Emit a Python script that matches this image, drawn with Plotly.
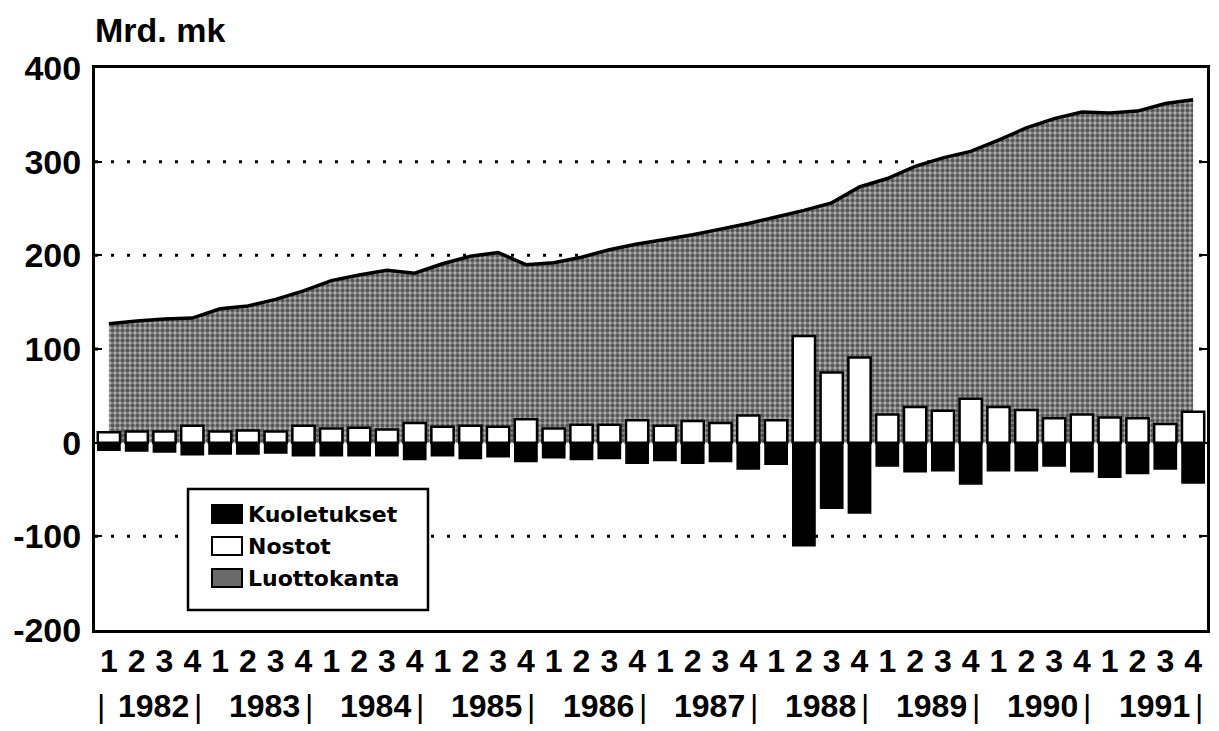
import plotly.graph_objects as go

# ---------------- data ----------------
years = [1982, 1983, 1984, 1985, 1986, 1987, 1988, 1989, 1990, 1991]
quarters = ["1", "2", "3", "4"]

# Luottokanta (credit stock), Mrd. mk, quarterly 1982Q1..1991Q4
luottokanta = [127, 130, 132, 133, 143, 146, 153, 162,
               173, 179, 184, 181, 191, 199, 203, 190,
               192, 198, 206, 212, 217, 222, 228, 234,
               241, 248, 256, 273, 282, 295, 304, 311,
               323, 336, 346, 353, 352, 354, 362, 366]

# Nostot (drawings)
nostot = [11, 12, 12, 18, 12, 13, 12, 18,
          15, 16, 14, 21, 17, 18, 17, 25,
          15, 19, 19, 24, 18, 23, 21, 29,
          24, 114, 75, 91, 30, 38, 34, 47,
          38, 35, 26, 30, 27, 26, 20, 33]

# Kuoletukset (amortisations), shown negative
kuoletukset = [-8, -9, -10, -13, -12, -12, -11, -14,
               -14, -14, -14, -18, -14, -17, -15, -20,
               -16, -18, -17, -22, -19, -22, -20, -28,
               -23, -110, -70, -75, -25, -31, -30, -44,
               -30, -30, -25, -31, -37, -33, -28, -43]

y_tickvals = [-200, -100, 0, 100, 200, 300, 400]
y_ticktext = ["-200", "-100", "0", "100", "200", "300", "400"]
grid_vals = [-100, 100, 200, 300]

series_names = ["Kuoletukset", "Nostot", "Luottokanta"]

# ---------------- layout geometry (screen pixels) ----------------
OFF = 8                      # page body margin
W, H = 1219 - OFF, 731 - OFF
L, R, T, B = 95, 1207, 68, 630   # plot area on screen


def px(x):
    return (x - L) / (R - L)


def py(y):
    return (B - y) / (B - T)


n = len(luottokanta)
xs = list(range(n))
qlabels = [quarters[i % 4] for i in range(n)]

fig = go.Figure()

fig.add_trace(go.Scatter(
    x=xs, y=luottokanta, mode="lines", name=series_names[2],
    line=dict(color="black", width=3.5),
    fill="tozeroy",
    fillcolor="#777777",
    fillpattern=dict(shape=".", fgcolor="black", bgcolor="#b0b0b0",
                     size=5, solidity=0.6),
    showlegend=False, hoverinfo="skip",
))

fig.add_trace(go.Bar(
    x=xs, y=kuoletukset, name=series_names[0], width=0.8, yaxis="y2",
    marker=dict(color="black", line=dict(color="black", width=1.5)),
    showlegend=False,
))
fig.add_trace(go.Bar(
    x=xs, y=nostot, name=series_names[1], width=0.8, yaxis="y2",
    marker=dict(color="white", line=dict(color="black", width=2.5)),
    showlegend=False,
))

shapes = []
for g in grid_vals:
    shapes.append(dict(type="line", xref="paper", yref="y", x0=0, x1=1,
                       y0=g, y1=g, layer="below",
                       line=dict(color="black", width=3, dash="3px,13px")))

# manual legend
legend_font = dict(family="DejaVu Sans", size=22, color="black", weight="bold")
shapes.append(dict(type="rect", xref="paper", yref="paper",
                   x0=px(188), x1=px(428), y0=py(610), y1=py(489),
                   line=dict(color="black", width=2.5), fillcolor="white",
                   layer="above"))
rows = [514, 546, 578]
swatch_fill = ["black", "white", "#6a6a6a"]
for yc, fc in zip(rows, swatch_fill):
    shapes.append(dict(type="rect", xref="paper", yref="paper",
                       x0=px(212), x1=px(242), y0=py(yc + 9), y1=py(yc - 9),
                       line=dict(color="black", width=2), fillcolor=fc,
                       layer="above"))

annotations = []
for yc, name in zip(rows, series_names):
    annotations.append(dict(xref="paper", yref="paper", x=px(246), y=py(yc),
                            text=name, showarrow=False, xanchor="left",
                            yanchor="middle", font=legend_font))

# title
annotations.append(dict(xref="paper", yref="paper", x=px(93), y=py(30),
                        text="Mrd. mk", showarrow=False, xanchor="left",
                        yanchor="middle",
                        font=dict(family="Liberation Sans", size=34,
                                  color="black", weight="bold")))

# year row
year_font = dict(family="Liberation Sans Narrow, Liberation Sans", size=32,
                 color="black", weight="bold")
for k, yr in enumerate(years):
    annotations.append(dict(xref="x", yref="paper", x=4 * k + 1.6, y=py(706),
                            text=str(yr), showarrow=False, xanchor="center",
                            yanchor="middle", font=year_font))
for k in range(len(years) + 1):
    xpos = 4 * k - 0.5 + (0.2 if k == 0 else -0.3)
    annotations.append(dict(xref="x", yref="paper", x=xpos, y=py(706),
                            text="|", showarrow=False, xanchor="center",
                            yanchor="middle",
                            font=dict(family="Liberation Sans", size=32,
                                      color="black")))

fig.update_layout(
    width=W, height=H,
    margin=dict(l=L - OFF, r=1219 - R, t=T - OFF, b=731 - B, autoexpand=False),
    paper_bgcolor="white", plot_bgcolor="white",
    barmode="relative", bargap=0.2,
    shapes=shapes, annotations=annotations,
    showlegend=False,
    yaxis2=dict(overlaying="y", range=[-200, 400], visible=False,
                showgrid=False, zeroline=False),
)

fig.update_xaxes(
    range=[-0.5, 39.5], tickvals=xs, ticktext=qlabels,
    tickfont=dict(family="Liberation Sans Narrow, Liberation Sans", size=32,
                  color="black", weight="bold"),
    ticks="", showgrid=False, zeroline=False, automargin=False,
    showline=True, linecolor="black", linewidth=3, mirror=True,
    ticklabelstandoff=1,
)
fig.update_layout(yaxis=dict(
    range=[-200, 400], tickvals=y_tickvals, ticktext=y_ticktext,
    tickfont=dict(family="Liberation Sans", size=34, color="black",
                  weight="bold"),
    ticks="inside", ticklen=7, tickwidth=2, tickcolor="black",
    showgrid=False, zeroline=False, automargin=False,
    showline=True, linecolor="black", linewidth=3, mirror="ticks",
    ticklabelstandoff=4,
))

fig.write_html("out.html")
